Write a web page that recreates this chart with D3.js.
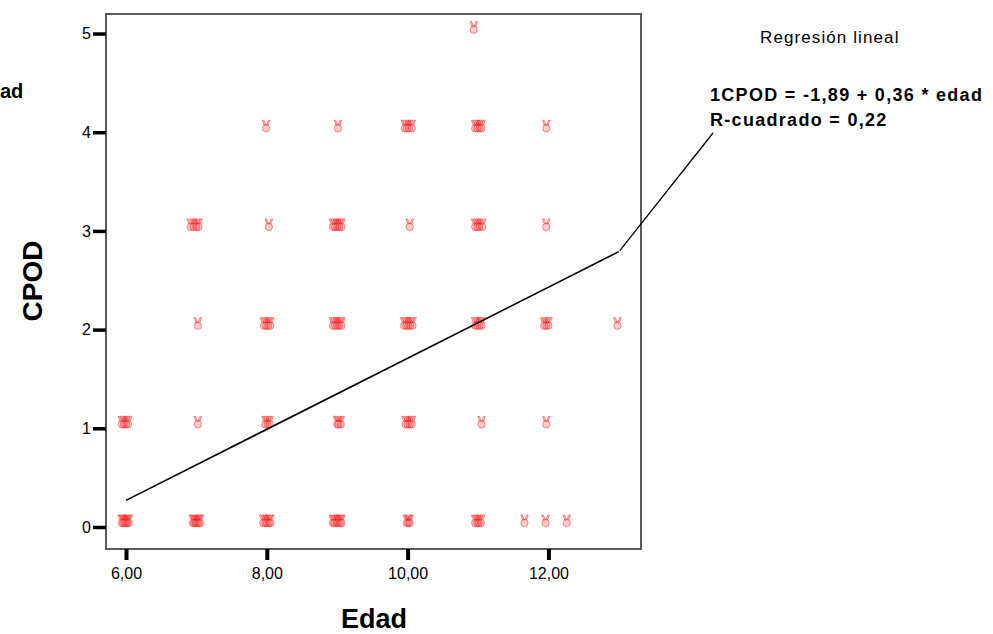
<!DOCTYPE html>
<html><head><meta charset="utf-8">
<script src="https://cdn.jsdelivr.net/npm/d3@7"></script>
<style>body{margin:0;background:#fff}svg{display:block}text{font-family:Arial,"Liberation Sans",sans-serif}</style>
</head><body>
<script>
// Data (jittered x positions as drawn)
const edad = [
  // CPOD 0
  5.94,5.96,5.98,6.0,6.02,6.04, 6.95,6.97,6.99,7.01,7.03,7.05, 7.95,7.98,8.0,8.03,8.05,
  8.94,8.96,8.99,9.01,9.04,9.06, 9.99,10.01,10.03, 10.96,10.99,11.01,11.04, 11.66,11.96,12.26,
  // CPOD 1
  5.94,5.97,6.0,6.03, 7.02, 7.98,8.01,8.04, 9.0,9.02,9.05, 9.97,10.0,10.03,10.06, 11.05, 11.97,
  // CPOD 2
  7.02, 7.96,7.99,8.02,8.05, 8.94,8.97,9.0,9.03,9.06, 9.95,9.98,10.01,10.04,10.07,
  10.96,10.99,11.02,11.05, 11.94,11.97,12.0, 12.98,
  // CPOD 3
  6.92,6.96,7.0,7.03, 8.03, 8.94,8.97,9.0,9.03,9.06, 10.03, 10.96,10.99,11.02,11.06, 11.97,
  // CPOD 4
  7.99, 9.01, 9.96,9.99,10.02,10.06, 10.96,10.99,11.02,11.05, 11.97,
  // CPOD 5
  10.94
];
const cpod = [
  0,0,0,0,0,0, 0,0,0,0,0,0, 0,0,0,0,0, 0,0,0,0,0,0, 0,0,0, 0,0,0,0, 0,0,0,
  1,1,1,1, 1, 1,1,1, 1,1,1, 1,1,1,1, 1, 1,
  2, 2,2,2,2, 2,2,2,2,2, 2,2,2,2,2, 2,2,2,2, 2,2,2, 2,
  3,3,3,3, 3, 3,3,3,3,3, 3, 3,3,3,3, 3,
  4, 4, 4,4,4,4, 4,4,4,4, 4,
  5
];
const xTicks = [6, 8, 10, 12];
const yTicks = [0, 1, 2, 3, 4, 5];
const fmt = d => d.toFixed(2).replace(".", ",");
const intercept = -1.89, slope = 0.36;
const fitRange = [6, 13];
const eqLines = ["1CPOD = -1,89 + 0,36 * edad", "R-cuadrado = 0,22"];

(function(){
const W = 993, H = 634;
const svg = d3.select("body").append("svg").attr("width", W).attr("height", H);
const pL = 106, pR = 641, pT = 14, pB = 549;
const x = d3.scaleLinear().domain([5.716, 13.315]).range([pL, pR]);
const y = d3.scaleLinear().domain([-0.223, 5.198]).range([pB, pT]);
const FONT = "Arial, 'Liberation Sans', sans-serif";

// frame
svg.append("rect").attr("x", pL).attr("y", pT).attr("width", pR-pL).attr("height", pB-pT)
  .attr("fill", "#fff").attr("stroke", "#5a5a5a").attr("stroke-width", 2);

// axes
const xAxis = d3.axisBottom(x).tickValues(xTicks).tickFormat(fmt).tickSize(11).tickPadding(8);
const gx = svg.append("g").attr("transform", `translate(0,${pB})`).call(xAxis);
gx.select(".domain").remove();
gx.selectAll(".tick line").attr("stroke", "#000").attr("stroke-width", 4);
gx.selectAll(".tick text").attr("font-size", 16).attr("fill", "#000").attr("font-family", FONT);

const yAxis = d3.axisLeft(y).tickValues(yTicks).tickFormat(d3.format("d")).tickSize(13).tickPadding(2);
const gy = svg.append("g").attr("transform", `translate(${pL},0)`).call(yAxis);
gy.select(".domain").remove();
gy.selectAll(".tick line").attr("stroke", "#000").attr("stroke-width", 3.5);
gy.selectAll(".tick text").attr("font-size", 16).attr("fill", "#000").attr("font-family", FONT);

// points: small "victory hand" marker like the SPSS glyph
const markerPath = "M-3.8,-6 L-2.2,-6 L-0.3,-1 L-1.9,-1 Z M2.2,-6 L3.8,-6 L1.9,-1 L0.3,-1 Z " +
  "M-3.6,2 A3.6,3.8 0 1,0 3.6,2 A3.6,3.8 0 1,0 -3.6,2 Z";
svg.append("g").selectAll("path").data(edad.map((e,i)=>[e,cpod[i]])).join("path")
  .attr("transform", d => `translate(${x(d[0])},${y(d[1]) - 6})`)
  .attr("d", markerPath)
  .attr("fill", "#ff4a4a").attr("fill-opacity", 0.28)
  .attr("stroke", "#ff2020").attr("stroke-opacity", 0.5).attr("stroke-width", 1);

// regression line
const line = d3.line().x(d => x(d)).y(d => y(intercept + slope*d));
svg.append("path").datum(fitRange).attr("d", line).attr("fill", "none").attr("stroke", "#000").attr("stroke-width", 1.6);

// leader line
const endX = fitRange[1];
svg.append("line").attr("x1", x(endX)+1).attr("y1", y(intercept + slope*endX)-1)
  .attr("x2", 713).attr("y2", 133).attr("stroke", "#000").attr("stroke-width", 1.3);

// annotation
svg.append("text").attr("x", 760).attr("y", 43).attr("font-size", 17).attr("letter-spacing", 1.1).text("Regresión lineal");
svg.selectAll(".eq").data(eqLines).join("text").attr("class", "eq")
  .attr("x", 710).attr("y", (d,i) => 101 + i*25).attr("font-size", 18).attr("font-weight", "bold")
  .attr("letter-spacing", 1.3).text(d => d);

// clipped legend fragment
svg.append("text").attr("x", 0).attr("y", 98).attr("font-size", 20).attr("font-weight", "bold").text("ad");

// axis titles
svg.append("text").attr("x", 374).attr("y", 628).attr("text-anchor", "middle").attr("font-size", 27).attr("font-weight", "bold").text("Edad");
svg.append("text").attr("transform", "translate(42,281) rotate(-90)").attr("text-anchor", "middle").attr("font-size", 28).attr("font-weight", "bold").text("CPOD");
})();
</script>
</body></html>
